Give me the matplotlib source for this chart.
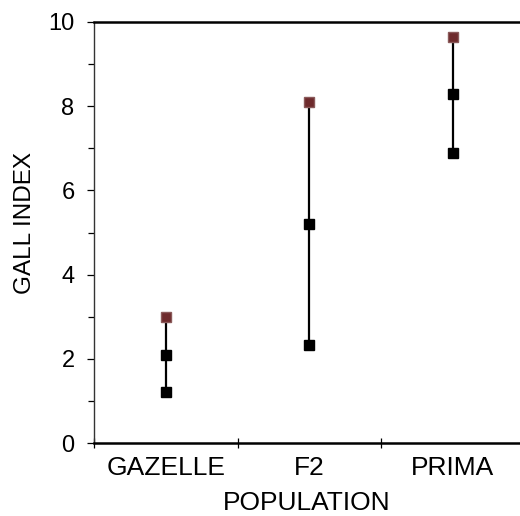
import numpy as np
import matplotlib.pyplot as plt
from matplotlib.ticker import FixedLocator, NullFormatter

plt.rcParams['font.family'] = ['Liberation Sans', 'DejaVu Sans']

# =========================
# DATA
# =========================
populations = ["GAZELLE", "F2", "PRIMA"]
high_vals = [3.0, 8.1, 9.65]
mid_vals = [2.1, 5.2, 8.3]
low_vals = [1.2, 2.33, 6.9]

x = np.arange(len(populations)) + 0.5

# =========================
# FIGURE
# =========================
fig = plt.figure(figsize=(5.2, 5.16), dpi=100)
ax = fig.add_axes([94 / 520, 73 / 516, 426 / 520, 421 / 516])

ax.vlines(x, low_vals, high_vals, color="black", lw=1.6, zorder=2)
ax.plot(x, low_vals, "s", color="black", ms=6.5, zorder=3)
ax.plot(x, mid_vals, "s", color="black", ms=6.5, zorder=3)
ax.plot(x, high_vals, "s", color="#6e2a2c", mec="#8a5a5a", ms=6.5, zorder=3)

ax.set_xlim(0, 426 / 143.5)
ax.set_ylim(0, 10)

# category dividers as major ticks, labels on minor ticks
ax.xaxis.set_major_locator(FixedLocator([0, 1, 2, 3]))
ax.xaxis.set_major_formatter(NullFormatter())
ax.xaxis.set_minor_locator(FixedLocator(x))
ax.set_xticklabels(populations, minor=True)
ax.tick_params(axis="x", which="major", direction="inout", length=7, width=0.9)
ax.tick_params(axis="x", which="minor", length=0, labelsize=19, pad=9.5)

ax.set_yticks([0, 2, 4, 6, 8, 10])
ax.set_yticks([1, 3, 5, 7, 9], minor=True)
ax.tick_params(axis="y", which="major", direction="out", length=5, width=0.9,
               labelsize=17, pad=9)
ax.tick_params(axis="y", which="minor", direction="out", length=4, width=0.9)

ax.spines["right"].set_visible(False)
ax.spines["top"].set_linewidth(1.8)
ax.spines["bottom"].set_linewidth(1.8)
ax.spines["left"].set_linewidth(1.0)
ax.spines["left"].set_color("#333333")

ax.set_xlabel("POPULATION", fontsize=19, labelpad=8)
ax.set_ylabel("GALL INDEX", fontsize=17.5, labelpad=8.5, y=0.522)

fig.savefig("out.png", dpi=100)
